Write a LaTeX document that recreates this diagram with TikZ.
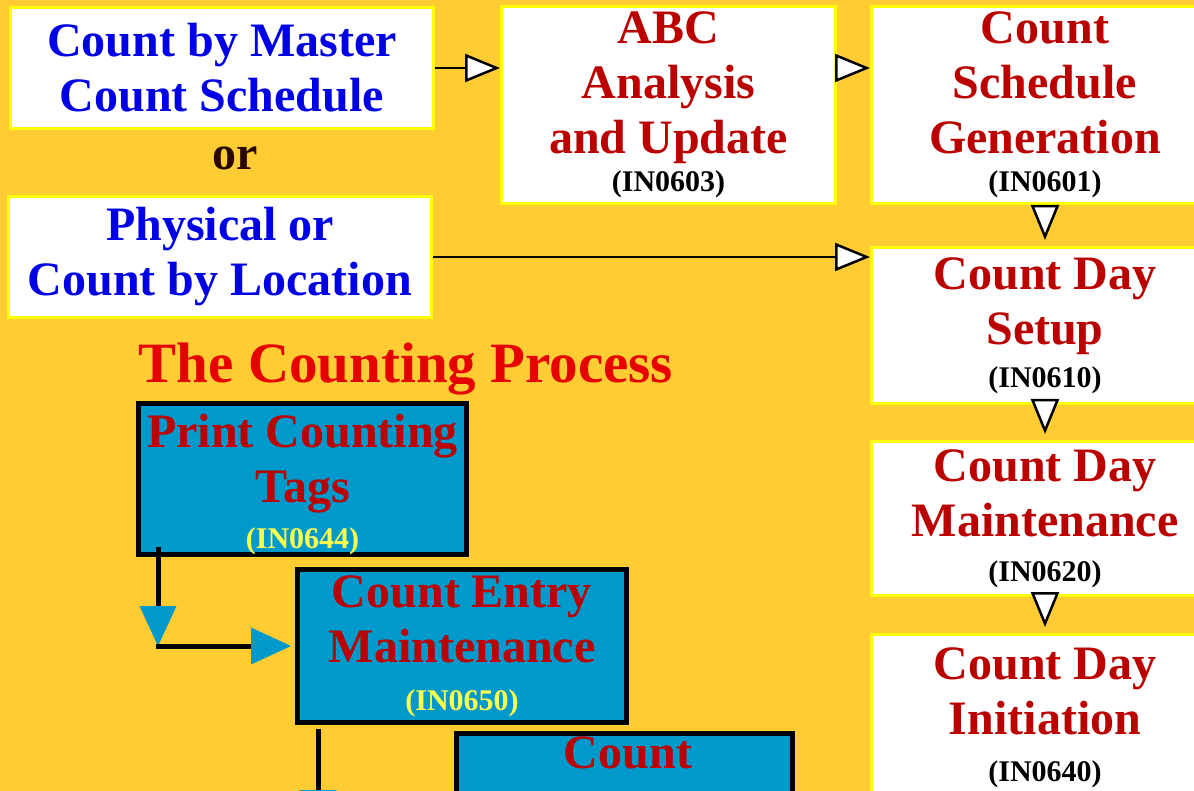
\documentclass[tikz,border=0pt]{standalone}
\usepackage{fontspec}
\setmainfont{Liberation Serif}
\usetikzlibrary{arrows.meta}
\usetikzlibrary{positioning}

\definecolor{bgorange}{HTML}{FFCC33}
\definecolor{edgeyellow}{HTML}{FFFF00}
\definecolor{txtblue}{HTML}{0000E6}
\definecolor{txtred}{HTML}{BB0000}
\definecolor{titlered}{HTML}{E60000}
\definecolor{procblue}{HTML}{0099CC}
\definecolor{codeyellow}{HTML}{FFFF4D}
\definecolor{ordark}{HTML}{2A0800}

\newcommand{\bigtxt}{\fontsize{48}{55}\selectfont\bfseries}
\newcommand{\codetxt}[1]{{\fontsize{30}{30}\selectfont\color{black}#1}}

\begin{document}
\begin{tikzpicture}[x=1pt,y=-1pt]
  \tikzset{wbox/.style = {shape=rectangle,draw=edgeyellow,line width=3pt,fill=white,inner sep=0pt,align=center,font=\bigtxt}}
  \tikzset{pbox/.style = {shape=rectangle,draw=black,line width=5pt,fill=procblue,inner sep=0pt,align=center,font=\bigtxt,text=txtred}}
  \tikzset{edge/.style = {line width=2.5pt,-{Triangle[length=35pt,width=28pt,fill=white]}}}
  \tikzset{flow/.style = {line width=5pt,-{Triangle[length=40pt,width=37pt,line width=0pt,color=procblue,fill=procblue]}}}

  \useasboundingbox (0,0) rectangle (1194,791);
  \fill[bgorange] (0,0) rectangle (1194,791);

	\node[wbox,text=txtblue,minimum width=423pt,minimum height=121pt] (mcs) at (222,68) {Count by Master\\Count Schedule};
	\node[font=\bigtxt,text=ordark,anchor=base] (or) at (235,170) {or};
	\node[wbox,text=txtblue,minimum width=423pt,minimum height=121pt] (loc) at (220,257) {Physical or\\Count by Location};

	\node[wbox,text=txtred,minimum width=334pt,minimum height=197pt] (abc) at (668.5,105) {ABC\\Analysis\\and Update\\[-17pt]\codetxt{(IN0603)}};

	\node[wbox,text=txtred,minimum width=347pt,minimum height=197pt] (gen) at (1045,105) {Count\\Schedule\\Generation\\[-17pt]\codetxt{(IN0601)}};
	\node[wbox,text=txtred,minimum width=347pt,minimum height=156pt] (setup) at (1045,325.5) {Count Day\\Setup\\[-12pt]\codetxt{(IN0610)}};
	\node[wbox,text=txtred,minimum width=347pt,minimum height=154pt] (cdm) at (1045,518.5) {Count Day\\Maintenance\\[-10pt]\codetxt{(IN0620)}};
	\node[wbox,text=txtred,minimum width=347pt,minimum height=167pt] (init) at (1045,718) {Count Day\\Initiation\\[-8pt]\codetxt{(IN0640)}};

	\node[font=\fontsize{57}{62}\selectfont\bfseries,text=titlered,anchor=base] (title) at (406,383) {The Counting Process};

	\node[pbox,minimum width=328pt,minimum height=151pt] (ptag) at (302.5,479) {\rule{0pt}{44pt}Print Counting\\Tags\\[-9pt]\codetxt{\color{codeyellow}(IN0644)}};
	\node[pbox,minimum width=329pt,minimum height=153pt] (entry) at (462,646) {Count Entry\\Maintenance\\[-7pt]\codetxt{\color{codeyellow}(IN0650)}};
	\node[pbox,minimum width=336pt,minimum height=163pt] (cnt) at (624.5,815) {};
	\node[font=\bigtxt,text=txtred,anchor=base] (cnttxt) at (628,768) {Count};

    \draw[edge] (mcs.east) -- (mcs.east -| abc.west);
    \draw[edge] (abc.east |- mcs.east) -- (mcs.east -| gen.west);
    \draw[edge] (loc.east) -- (loc.east -| setup.west);

    \foreach \from/\to in {gen/setup, setup/cdm, cdm/init}
    \draw[edge,shorten >=6pt] (\from) -- (\to);

	\coordinate (tagout) at ([xshift=22pt,yshift=10pt]ptag.south west);
	\coordinate (entryout) at ([xshift=23pt,yshift=-4pt]entry.south west);
	\coordinate (cntdown) at ([yshift=-101pt]entryout);

    \draw[flow] (tagout) -- (tagout |- entry.west);
    \draw[flow,shorten >=4pt] ([xshift=-2.5pt]tagout |- entry.west) -- (entry.west);
    \draw[flow] (entryout) -- (cntdown);

\end{tikzpicture}
\end{document}
